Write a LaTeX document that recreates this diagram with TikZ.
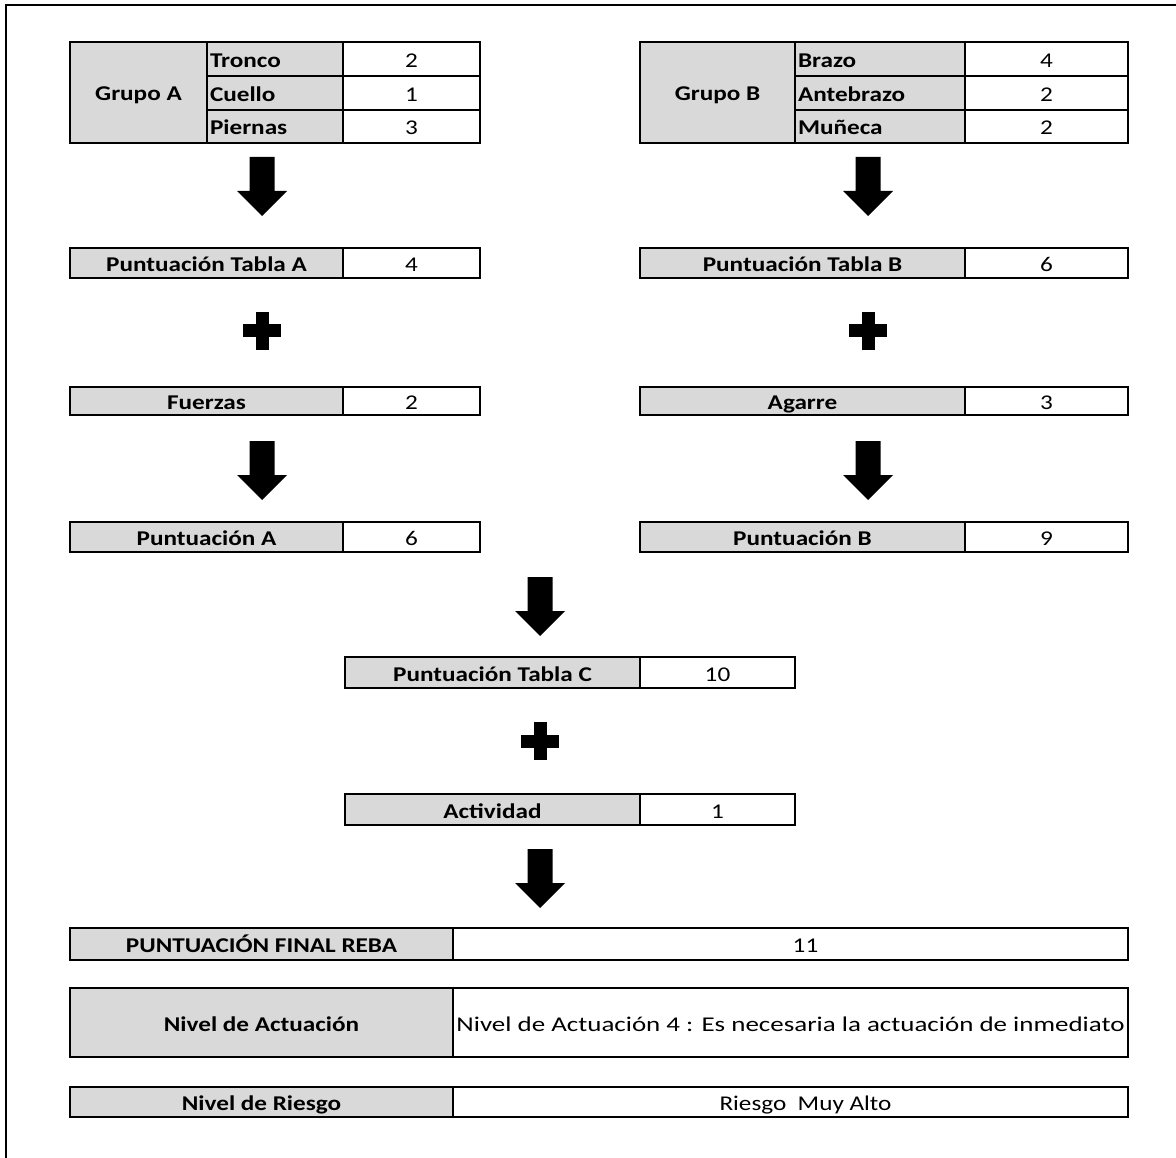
\documentclass[tikz,border=0pt]{standalone}
\usepackage{fontspec}
\usepackage{graphicx}
\setmainfont{Carlito}[FakeStretch=1.2]
\definecolor{cellgray}{HTML}{D9D9D9}
\tikzset{
  every node/.style={inner sep=0pt, outer sep=0pt},
  cellbase/.style={draw=black, line width=2.2pt, rectangle, text height=18pt, text depth=1pt, font=\fontsize{21}{25}\selectfont},
  graycell/.style={cellbase, fill=cellgray, font=\fontsize{21}{25}\selectfont\bfseries},
  whitecell/.style={cellbase, fill=white},
  lefttext/.style={anchor=west, text height=18pt, text depth=1pt, font=\fontsize{21}{25}\selectfont\bfseries},
  downarrow/.pic={\fill[black] (-12.5,0) -- (12.5,0) -- (12.5,34) -- (25,34) -- (0,59) -- (-25,34) -- (-12.5,34) -- cycle;},
  plussign/.pic={\fill[black] (-6.5,-19) rectangle (6.5,19); \fill[black] (-19,-6.5) rectangle (19,6.5);}
}
% name, x1, y1, x2, y2, style, text
\newcommand\cellbox[7]{%
  \node[#6, minimum width={#4-#2}, minimum height={#5-#3}] (#1) at ({(#2+#4)/2},{(#3+#5)/2}) {#7};}
\begin{document}
\begin{tikzpicture}[x=1pt, y=-1pt]
\useasboundingbox (0,0) rectangle (1176,1158);
% outer frame (only left and top edges visible)
\draw[line width=2.5pt] (6,1158) -- (6,5) -- (1176,5);

% ---------- Grupo A ----------
\cellbox{gA}{70}{42}{207}{143}{graycell}{Grupo A}
\cellbox{gAr1}{207}{42}{343}{76}{graycell}{}
\cellbox{gAr2}{207}{76}{343}{110}{graycell}{}
\cellbox{gAr3}{207}{110}{343}{143}{graycell}{}
\node[lefttext] (tTronco) at ([xshift=3pt]gAr1.west) {Tronco};
\node[lefttext] (tCuello) at ([xshift=3pt]gAr2.west) {Cuello};
\node[lefttext] (tPiernas) at ([xshift=3pt]gAr3.west) {Piernas};
\cellbox{gAv1}{343}{42}{480}{76}{whitecell}{2}
\cellbox{gAv2}{343}{76}{480}{110}{whitecell}{1}
\cellbox{gAv3}{343}{110}{480}{143}{whitecell}{3}

% ---------- Grupo B ----------
\cellbox{gB}{640}{42}{795}{143}{graycell}{Grupo B}
\cellbox{gBr1}{795}{42}{965}{76}{graycell}{}
\cellbox{gBr2}{795}{76}{965}{110}{graycell}{}
\cellbox{gBr3}{795}{110}{965}{143}{graycell}{}
\node[lefttext] (tBrazo) at ([xshift=3pt]gBr1.west) {Brazo};
\node[lefttext] (tAntebrazo) at ([xshift=3pt]gBr2.west) {Antebrazo};
\node[lefttext] (tMuneca) at ([xshift=3pt]gBr3.west) {Muñeca};
\cellbox{gBv1}{965}{42}{1128}{76}{whitecell}{4}
\cellbox{gBv2}{965}{76}{1128}{110}{whitecell}{2}
\cellbox{gBv3}{965}{110}{1128}{143}{whitecell}{2}

% ---------- left column ----------
\pic at (262,157) {downarrow};
\cellbox{tA}{70}{248}{343}{278}{graycell}{Puntuación Tabla A}
\cellbox{tAv}{343}{248}{480}{278}{whitecell}{4}
\pic at (262,331) {plussign};
\cellbox{fz}{70}{387}{343}{415}{graycell}{Fuerzas}
\cellbox{fzv}{343}{387}{480}{415}{whitecell}{2}
\pic at (262,441) {downarrow};
\cellbox{pA}{70}{522}{343}{552}{graycell}{Puntuación A}
\cellbox{pAv}{343}{522}{480}{552}{whitecell}{6}

% ---------- right column ----------
\pic at (868,157) {downarrow};
\cellbox{tB}{640}{248}{965}{278}{graycell}{Puntuación Tabla B}
\cellbox{tBv}{965}{248}{1128}{278}{whitecell}{6}
\pic at (868,331) {plussign};
\cellbox{ag}{640}{387}{965}{415}{graycell}{Agarre}
\cellbox{agv}{965}{387}{1128}{415}{whitecell}{3}
\pic at (868,441) {downarrow};
\cellbox{pB}{640}{522}{965}{552}{graycell}{Puntuación B}
\cellbox{pBv}{965}{522}{1128}{552}{whitecell}{9}

% ---------- centre ----------
\pic at (540,577) {downarrow};
\cellbox{tC}{345}{657}{640}{688}{graycell}{Puntuación Tabla C}
\cellbox{tCv}{640}{657}{795}{688}{whitecell}{10}
\pic at (540,741) {plussign};
\cellbox{act}{345}{794}{640}{825}{graycell}{Actividad}
\cellbox{actv}{640}{794}{795}{825}{whitecell}{1}
\pic at (540,849) {downarrow};

% ---------- bottom ----------
\cellbox{fin}{70}{928}{453}{960}{graycell}{PUNTUACIÓN FINAL REBA}
\cellbox{finv}{453}{928}{1128}{960}{whitecell}{\hspace*{30pt}11}
\cellbox{niv}{70}{988}{453}{1057}{graycell}{Nivel de Actuación}
\cellbox{nivv}{453}{988}{1128}{1057}{whitecell}{\scalebox{1.07}[1]{Nivel de Actuación 4 : Es necesaria la actuación de inmediato}}
\cellbox{rie}{70}{1087}{453}{1117}{graycell}{Nivel de Riesgo}
\cellbox{riev}{453}{1087}{1128}{1117}{whitecell}{\hspace*{30pt}Riesgo\ \ Muy Alto}
\end{tikzpicture}
\end{document}
